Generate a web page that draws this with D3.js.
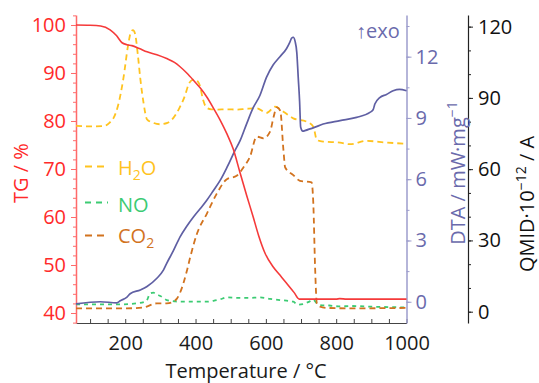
<!DOCTYPE html>
<html><head><meta charset="utf-8">
<script src="https://cdn.jsdelivr.net/npm/d3@7"></script>
<style>
body{margin:0;background:#fff;}
text{font-family:"Open Sans",sans-serif;}
</style></head>
<body><svg id="c" width="539" height="383"></svg>
<script>
// ---- data ----
const xTicksMajor = [200, 400, 600, 800, 1000];
const tgTicks = [40, 50, 60, 70, 80, 90, 100];
const dtaTicks = [0, 3, 6, 9, 12];
const qTicks = [0, 30, 60, 90, 120];

const tgT = [60, 100, 130, 157, 175, 191, 205, 219, 240, 262, 290, 318, 340, 356, 375, 394, 413, 432, 450, 470, 490, 507, 527, 545, 564, 580, 598, 621, 640, 659, 680, 695, 750, 800, 810, 830, 900, 1000];
const tgV = [100, 99.95, 99.8, 99.0, 97.8, 96.3, 95.9, 95.7, 95.1, 94.4, 93.8, 93.0, 92.2, 91.3, 90.0, 88.5, 86.9, 85.0, 82.8, 80.2, 77.2, 74.2, 69.1, 64.6, 60.0, 56.0, 52.4, 49.6, 47.9, 46.2, 44.3, 42.9, 42.9, 42.9, 43.0, 42.9, 42.9, 42.9];

const dtaT = [60, 129, 176, 186, 205, 214, 243, 262, 290, 309, 318, 337, 356, 375, 394, 413, 432, 451, 470, 490, 512, 527, 545, 564, 583, 602, 621, 640, 659, 668, 673, 678, 683, 688, 692, 696, 699, 705, 711, 740, 763, 811, 858, 896, 905, 910, 924, 943, 962, 980, 1000];
const dtaV = [-0.1, 0, -0.05, 0.05, 0.23, 0.39, 0.58, 0.75, 1.15, 1.56, 1.88, 2.5, 3.18, 3.7, 4.15, 4.55, 4.97, 5.45, 5.94, 6.6, 7.4, 7.9, 8.7, 9.5, 10.1, 11.0, 11.6, 12.0, 12.4, 12.7, 12.9, 12.95, 12.76, 12.2, 11.0, 9.8, 8.54, 8.35, 8.38, 8.55, 8.7, 8.87, 9.03, 9.27, 9.4, 9.68, 10.0, 10.15, 10.33, 10.4, 10.33];

const h2oT = [60, 100, 138, 155, 167, 180, 195, 208, 217, 222, 228, 236, 243, 252, 262, 280, 299, 320, 337, 355, 370, 380, 390, 399, 406, 413, 420, 432, 445, 460, 490, 517, 545, 574, 602, 626, 650, 678, 716, 735, 745, 763, 811, 839, 886, 943, 1000];
const h2oV = [78.2, 78, 78.1, 79.5, 81.6, 87, 98.4, 112, 118, 118.5, 117, 108, 98, 88, 81, 79.5, 78.9, 79.5, 81.6, 86, 91, 95.6, 97.5, 97.7, 97, 94.9, 90, 85.8, 85.2, 85.1, 85.2, 85.1, 85.4, 85.6, 83.7, 86.3, 84.2, 81.4, 80, 77.9, 72.3, 71.6, 71.2, 70.5, 71.9, 71.2, 70.7];

const noT = [60, 120, 186, 233, 260, 271, 280, 290, 300, 318, 340, 356, 385, 413, 432, 451, 470, 489, 520, 550, 583, 612, 640, 678, 690, 705, 720, 735, 745, 754, 780, 811, 839, 905, 1000];
const noV = [3.1, 3.1, 3.1, 3.5, 4.5, 7.7, 8.0, 7.2, 6.6, 4.9, 4.4, 4.2, 4.2, 4.2, 4.2, 4.6, 5.2, 6.0, 5.8, 5.8, 6.0, 5.4, 4.9, 4.2, 3.0, 3.2, 4.0, 5.0, 3.5, 2.8, 2.6, 2.2, 2.4, 2.1, 1.8];

const co2T = [60, 150, 200, 252, 290, 318, 337, 347, 356, 375, 385, 404, 432, 460, 489, 517, 536, 555, 574, 593, 612, 622, 631, 641, 650, 655, 678, 697, 730, 735, 740, 745, 754, 773, 839, 1000];
const co2V = [1.4, 1.4, 1.4, 1.8, 3.5, 3.5, 4.2, 5.5, 8.0, 17, 23, 32.8, 41.2, 49.6, 55.8, 57.2, 60.7, 65.3, 73.7, 73.0, 75.8, 82, 86, 84.6, 68, 60.7, 57.5, 55.1, 54.4, 45.4, 18.8, 3.5, 2.1, 1.6, 1.4, 1.6];

const legendNames = ["H2O", "NO", "CO2"];

// ---- drawing ----
const svg = d3.select("#c");
svg.append("rect").attr("width",539).attr("height",383).attr("fill","#fff");
const L = 76, R = 406.5, T = 15, B = 323;
const x = d3.scaleLinear().domain([60, 1000]).range([L, R]);
const yTG = d3.scaleLinear().domain([37.92, 102.08]).range([B, T]);
const yDTA = d3.scaleLinear().domain([-1.04, 14.04]).range([B, T]);
const yQ = d3.scaleLinear().domain([-4.76, 124.9]).range([B, T]);

const cRed = "#f53a3a", cRedAx = "#ff6a6a", cBlue = "#5f5fa3", cBlueAx = "#9c9ccc", cBlueTx = "#6a6aac";
const cH2O = "#ffc31f", cNO = "#3ccb73", cCO2 = "#d2731f";

function style(g, col, txt){
  g.selectAll("path.domain").attr("stroke", col);
  g.selectAll("line").attr("stroke", col);
  g.selectAll("text").attr("fill", txt).style("font-size","20px").style("font-family","'Open Sans',sans-serif");
}

// bottom axis
const gx = svg.append("g").attr("transform",`translate(0,${B})`);
gx.call(d3.axisBottom(x).tickValues(d3.range(100,1001,50)).tickSize(-4).tickSizeOuter(0).tickFormat(""));
style(gx, "#444", "#222");
const gxl = svg.append("g").attr("transform",`translate(0,${B})`);
gxl.call(d3.axisBottom(x).tickValues(xTicksMajor).tickSize(0).tickPadding(13).tickFormat(d3.format("d")));
gxl.select("path.domain").remove();
style(gxl, "#444", "#1a1a1a");

// left TG axis
const gl = svg.append("g").attr("transform",`translate(${L},0)`);
gl.call(d3.axisLeft(yTG).tickValues(d3.range(38,103,2)).tickSize(3).tickSizeOuter(0).tickFormat(""));
gl.append("g").call(d3.axisLeft(yTG).tickValues(tgTicks).tickSize(5).tickPadding(5).tickSizeOuter(0));
gl.selectAll("g g path.domain").remove();
style(gl, cRedAx, "#ff2a2a");
gl.selectAll("path.domain").attr("stroke-width",1.5);

// right DTA axis
const gd = svg.append("g").attr("transform",`translate(${R},0)`);
gd.call(d3.axisRight(yDTA).tickValues(d3.range(-1.5,14.1,1.5).filter(v=>v>=-1.04)).tickSize(3).tickSizeOuter(0).tickFormat(""));
gd.append("g").call(d3.axisRight(yDTA).tickValues(dtaTicks).tickSize(5).tickPadding(4).tickSizeOuter(0));
gd.selectAll("g g path.domain").remove();
style(gd, cBlueAx, cBlueTx);
gd.selectAll("path.domain").attr("stroke-width",1.5);

// QMID axis
const QX = 468;
const gq = svg.append("g").attr("transform",`translate(${QX},0)`);
gq.call(d3.axisRight(yQ).tickValues(d3.range(0,125,10)).tickSize(3).tickSizeOuter(0).tickFormat(""));
gq.append("g").call(d3.axisRight(yQ).tickValues(qTicks).tickSize(5).tickPadding(5).tickSizeOuter(0));
gq.selectAll("g g path.domain").remove();
style(gq, "#222", "#111");
gq.selectAll("path.domain").attr("stroke-width",1.2);

// lines
const mk = (ts, vs) => ts.map((t,i)=>[t, vs[i]]);
function draw(data, ys, col, w, dash){
  const line = d3.line().x(d=>x(d[0])).y(d=>ys(d[1])).curve(d3.curveMonotoneX);
  svg.append("path").datum(data).attr("d", line).attr("fill","none")
    .attr("stroke", col).attr("stroke-width", w).attr("stroke-dasharray", dash||null);
}
draw(mk(h2oT,h2oV), yQ, cH2O, 1.8, "6,4");
draw(mk(noT,noV), yQ, cNO, 1.8, "4,4");
draw(mk(co2T,co2V), yQ, cCO2, 1.8, "6,4");
draw(mk(dtaT,dtaV), yDTA, cBlue, 1.7);
draw(mk(tgT,tgV), yTG, cRed, 1.6);

// legend
const legCols = [cH2O, cNO, cCO2];
const legY = [166.5, 202.5, 235.5];
const legBase = [175, 212, 243];
legendNames.forEach((n,i)=>{
  svg.append("line").attr("x1",85).attr("x2",108).attr("y1",legY[i]).attr("y2",legY[i])
    .attr("stroke",legCols[i]).attr("stroke-width",1.8).attr("stroke-dasharray", i===1?"6,5":"7,5");
  const t = svg.append("text").attr("x",118).attr("y",legBase[i]).attr("fill",legCols[i]).style("font-size","20px");
  if(n==="H2O"){ t.append("tspan").text("H"); t.append("tspan").attr("dy",5).style("font-size","14px").text("2"); t.append("tspan").attr("dy",-5).text("O"); }
  else if(n==="CO2"){ t.append("tspan").text("CO"); t.append("tspan").attr("dy",5).style("font-size","14px").text("2"); }
  else t.text(n);
});

// titles
svg.append("text").attr("x",246).attr("y",378).attr("text-anchor","middle").attr("fill","#1a1a1a")
  .style("font-size","20px").text("Temperature / °C");
svg.append("text").attr("transform","translate(28,173) rotate(-90)").attr("text-anchor","middle")
  .attr("fill","#ff2a2a").style("font-size","20px").text("TG / %");
const td = svg.append("text").attr("transform","translate(465,173) rotate(-90)").attr("text-anchor","middle")
  .attr("fill",cBlueTx).style("font-size","20px");
td.append("tspan").text("DTA / mW·mg");
td.append("tspan").attr("dy",-8).style("font-size","14px").text("−1");
const tq = svg.append("text").attr("transform","translate(534,204) rotate(-90)").attr("text-anchor","middle")
  .attr("fill","#111").style("font-size","20px");
tq.append("tspan").text("QMID·10");
tq.append("tspan").attr("dy",-8).style("font-size","14px").text("−12");
tq.append("tspan").attr("dy",8).text(" / A");

svg.append("text").attr("x",356).attr("y",38).attr("fill",cBlueTx).style("font-size","20px").text("↑exo");
</script></body></html>
